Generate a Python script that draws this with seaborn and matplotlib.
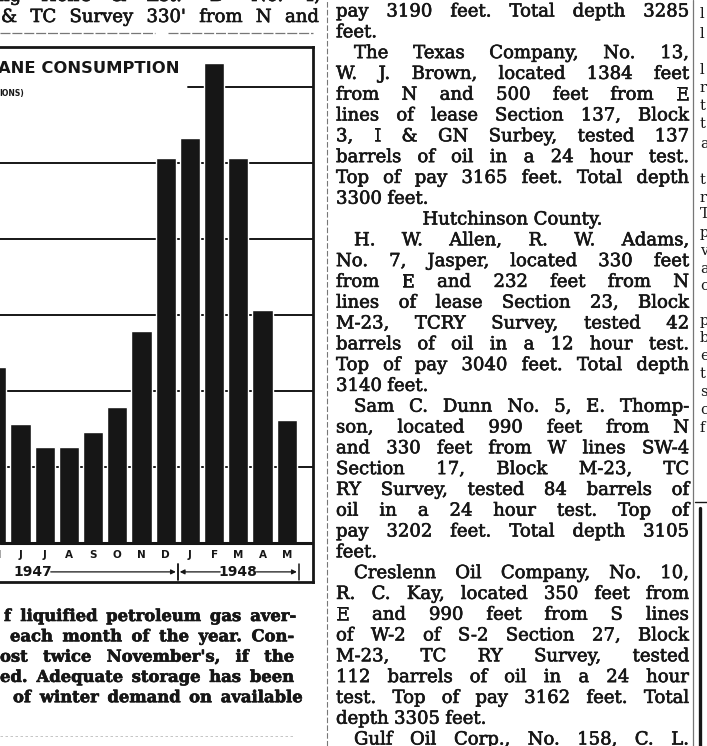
import matplotlib
matplotlib.use("Agg")
import matplotlib.pyplot as plt
import matplotlib.patheffects as pe
import seaborn as sns
import pandas as pd

W, H = 707, 746
INK = "#161616"
SERIF = "DejaVu Serif"
SANS = "DejaVu Sans"

# bar chart data (consumption in grid units)
months = ["May 1947", "Jun 1947", "Jul 1947", "Aug 1947", "Sep 1947", "Oct 1947",
          "Nov 1947", "Dec 1947", "Jan 1948", "Feb 1948", "Mar 1948", "Apr 1948", "May 1948"]
month_letters = ["M", "J", "J", "A", "S", "O", "N", "D", "J", "F", "M", "A", "M"]
month_numbers = [5, 6, 7, 8, 9, 10, 11, 12, 1, 2, 3, 4, 5]
month_years = [1947, 1947, 1947, 1947, 1947, 1947, 1947, 1947, 1948, 1948, 1948, 1948, 1948]
consumption = [2.32, 1.57, 1.26, 1.26, 1.46, 1.79, 2.79, 5.07, 5.33, 6.32, 5.07, 3.07, 1.62]
gridlines = [1, 2, 3, 4, 5, 6]

chart_title = "ANE CONSUMPTION"
chart_subtitle = "IONS)"

head_lines = ['ng Heirs & Est. "B" No. 4,', "& TC Survey 330' from N and"]

caption_lines = ["f liquified petroleum gas aver-",
                 "each month of the year. Con-",
                 "ost twice November's, if the",
                 "ed. Adequate storage has been",
                 "of winter demand on available"]
caption_x0 = [4, 10, 0, 0, 13]
caption_x1 = [296, 294, 294, 294, 302]

# j = justified, l = last line of paragraph, i = indented first line, c = centred
column_lines = [
    ("j", "pay 3190 feet. Total depth 3285"),
    ("l", "feet."),
    ("i", "The Texas Company, No. 13,"),
    ("j", "W. J. Brown, located 1384 feet"),
    ("j", "from N and 500 feet from E"),
    ("j", "lines of lease Section 137, Block"),
    ("j", "3, I & GN Surbey, tested 137"),
    ("j", "barrels of oil in a 24 hour test."),
    ("j", "Top of pay 3165 feet. Total depth"),
    ("l", "3300 feet."),
    ("c", "Hutchinson County."),
    ("i", "H. W. Allen, R. W. Adams,"),
    ("j", "No. 7, Jasper, located 330 feet"),
    ("j", "from E and 232 feet from N"),
    ("j", "lines of lease Section 23, Block"),
    ("j", "M-23, TCRY Survey, tested 42"),
    ("j", "barrels of oil in a 12 hour test."),
    ("j", "Top of pay 3040 feet. Total depth"),
    ("l", "3140 feet."),
    ("i", "Sam C. Dunn No. 5, E. Thomp-"),
    ("j", "son, located 990 feet from N"),
    ("j", "and 330 feet from W lines SW-4"),
    ("j", "Section 17, Block M-23, TC"),
    ("j", "RY Survey, tested 84 barrels of"),
    ("j", "oil in a 24 hour test. Top of"),
    ("j", "pay 3202 feet. Total depth 3105"),
    ("l", "feet."),
    ("i", "Creslenn Oil Company, No. 10,"),
    ("j", "R. C. Kay, located 350 feet from"),
    ("j", "E and 990 feet from S lines"),
    ("j", "of W-2 of S-2 Section 27, Block"),
    ("j", "M-23, TC RY Survey, tested"),
    ("j", "112 barrels of oil in a 24 hour"),
    ("j", "test. Top of pay 3162 feet. Total"),
    ("l", "depth 3305 feet."),
    ("i", "Gulf Oil Corp., No. 158, C. L."),
    ("j", "Dickerson, located 1650 feet from"),
]

# first letters of the next column, cut by the page edge
edge_letters = ["l", "l", "l", "r", "t", "t", "a", "t", "r", "T", "p",
                "v", "a", "c", "p", "b", "e", "t", "s", "c", "f"]
edge_rows = [13, 33, 70, 88, 106, 124, 143, 180, 197, 214, 232,
             250, 268, 285, 320, 338, 356, 374, 392, 410, 428]


def fx(x):
    return x / W


def fy(y):
    return 1 - y / H


sns.set_style("white")
plt.rcParams["font.family"] = [SANS]

fig = plt.figure(figsize=(W / 100, H / 100), dpi=100)
fig.patch.set_facecolor("white")
renderer = fig.canvas.get_renderer()
ink_fx = [pe.withStroke(linewidth=0.45, foreground=INK)]


def text_line(s, x0, x1, y, size, weight="normal", mode="j", family=SERIF):
    """place one line of words, justified between x0 and x1 (pixels)"""
    words = s.split()
    arts = [fig.text(0, 0, w, fontsize=size, fontweight=weight, family=family,
                     color=INK, va="baseline", ha="left", path_effects=ink_fx)
            for w in words]
    widths = [a.get_window_extent(renderer).width for a in arts]
    space = size * 100 / 72 * 0.3
    total = sum(widths) + space * (len(words) - 1)
    x = x0
    gap = space
    if mode == "j" and len(words) > 1:
        gap = max((x1 - x0 - sum(widths)) / (len(words) - 1), space * 0.5)
    elif mode == "c":
        x = (x0 + x1) / 2 - total / 2
    for a, w in zip(arts, widths):
        a.set_position((fx(x), fy(y)))
        x += w + gap


# ---- chart ----
ax = fig.add_axes([0, fy(582), fx(313), (582 - 47) / H])
df = pd.DataFrame({"month": months, "consumption": consumption})
sns.barplot(data=df, x="month", y="consumption", order=months, color=INK,
            width=0.83, saturation=1, errorbar=None, ax=ax, zorder=3)

for g in gridlines[:-1]:
    ax.axhline(g, color=INK, lw=1.4, zorder=1)
ax.axhline(gridlines[-1], xmin=0.6, color=INK, lw=1.4, zorder=1)
ax.axhline(0, color=INK, lw=2.2, zorder=4)

ax.set_xlim(0.153, 13.087)
ax.set_ylim(-0.513, 6.526)
ax.set_xticks([])
ax.set_yticks([])
ax.set_xlabel("")
ax.set_ylabel("")
ax.spines["left"].set_visible(False)
for side in ["top", "right", "bottom"]:
    ax.spines[side].set_linewidth(2.0)
    ax.spines[side].set_color(INK)

for i, lbl in enumerate(month_letters):
    ax.text(i, -0.158, lbl, ha="center", va="center", fontsize=7.5,
            fontweight="heavy", color=INK)

# year spans under the month letters
for yr in sorted(set(month_years)):
    idx = [i for i, y in enumerate(month_years) if y == yr]
    start = idx[0] - (month_numbers[idx[0]] - 1)
    end = min(idx[-1] + 12 - month_numbers[idx[-1]], len(months) - 1)
    left, right = start - 0.5, end + 0.5
    mid = (start + end) / 2
    ax.text(mid, -0.38, str(yr), ha="center", va="center", fontsize=10,
            fontweight="heavy", color=INK)
    arrow = dict(arrowstyle="-|>", lw=0.9, color=INK, mutation_scale=7,
                 shrinkA=0, shrinkB=0)
    ax.annotate("", xy=(right - 0.08, -0.38), xytext=(mid + 0.75, -0.38),
                arrowprops=arrow)
    ax.annotate("", xy=(left + 0.08, -0.38), xytext=(mid - 0.75, -0.38),
                arrowprops=arrow)
    for b in (left, right):
        ax.plot([b, b], [-0.27, -0.49], color=INK, lw=1.1)

fig.text(fx(-2), fy(73), chart_title, fontsize=11.8, fontweight="heavy",
         family=SANS, color=INK, va="baseline")
fig.text(fx(-1), fy(96), chart_subtitle, fontsize=5.5, fontweight="heavy",
         family=SANS, color=INK, va="baseline")

# ---- surrounding newspaper text ----
text_line(head_lines[0], -2, 320, 1, 13)
text_line(head_lines[1], 1, 319, 22, 13)

for i, s in enumerate(caption_lines):
    text_line(s, caption_x0[i], caption_x1[i], 621 + 20.3 * i, 11.8, weight="bold")

for i, (mode, s) in enumerate(column_lines):
    y = 12 + 20.8 * i + 4.5
    x0 = 336 + (18 if mode == "i" else 0)
    text_line(s, x0, 689, y, 13, mode="j" if mode == "i" else mode)

for ch, row in zip(edge_letters, edge_rows):
    fig.text(fx(700), fy(row + 4.5), ch, fontsize=10.5,
             family=SERIF, color=INK, va="baseline")

# rules
rule = dict(transform=fig.transFigure, color="#777777")
fig.add_artist(plt.Line2D([fx(0), fx(155)], [fy(33)] * 2, lw=0.9, ls=(0, (8, 1.5)), **rule))
fig.add_artist(plt.Line2D([fx(168), fx(313)], [fy(33)] * 2, lw=0.9, ls=(0, (8, 1.5)), **rule))
fig.add_artist(plt.Line2D([fx(327)] * 2, [0, 1], lw=0.8, ls=(0, (5, 2)), **rule))
fig.add_artist(plt.Line2D([fx(693)] * 2, [0, 1], lw=0.9, **rule))
fig.add_artist(plt.Line2D([fx(0), fx(295)], [fy(736)] * 2, lw=0.6, ls=(0, (3, 3)),
                          transform=fig.transFigure, color="#bbbbbb"))
fig.add_artist(plt.Line2D([fx(695), fx(707)], [fy(502)] * 2, lw=1.0, transform=fig.transFigure, color=INK))
fig.add_artist(plt.Line2D([fx(700)] * 2, [fy(508), 0], lw=2.4, transform=fig.transFigure, color=INK))

fig.savefig("out.png", dpi=100, facecolor="white")
